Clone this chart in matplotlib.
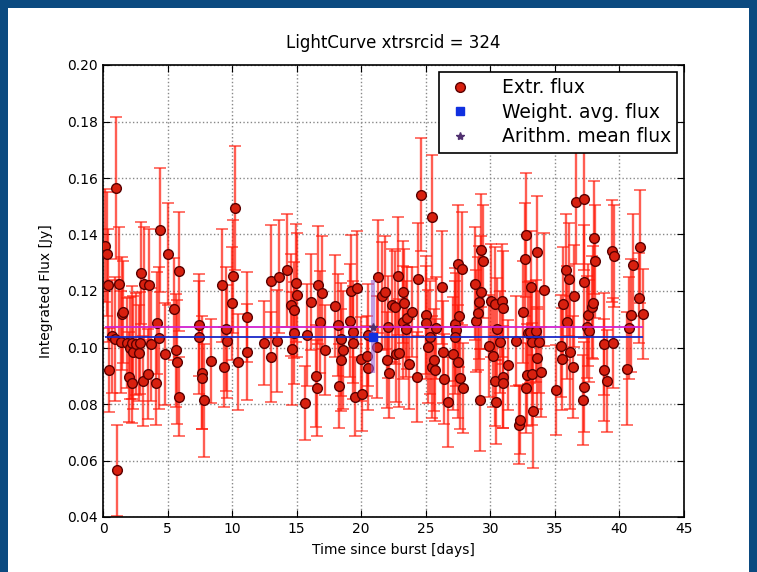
import matplotlib
matplotlib.use('Agg')
import matplotlib.pyplot as plt
from matplotlib.patches import Rectangle

# data
time = [0.15, 0.3, 0.4, 0.45, 0.7, 0.93, 1.0, 1.05, 1.25, 1.4, 1.45, 1.55, 1.85, 2.0, 2.1,
        2.25, 2.25, 2.3, 2.55, 2.8, 2.87, 2.95, 3.1, 3.2, 3.5, 3.6, 3.7, 4.1, 4.2, 4.3,
        4.4, 4.8, 5.0, 5.5, 5.65, 5.7, 5.9, 5.9, 7.45, 7.45, 7.65, 7.7, 7.8, 8.4, 9.2,
        9.4, 9.5, 9.6, 10.0, 10.1, 10.2, 10.45, 11.15, 11.15, 12.5, 13.0, 13.05, 13.45, 13.6, 14.25,
        14.55, 14.65, 14.8, 14.8, 14.95, 15.0, 15.65, 15.8, 16.1, 16.5, 16.6, 16.65, 16.8, 16.95, 17.2,
        18.0, 18.2, 18.3, 18.45, 18.45, 18.6, 19.15, 19.2, 19.35, 19.35, 19.5, 19.7, 20.0, 20.05, 20.45,
        20.5, 20.5, 21.2, 21.3, 21.6, 21.85, 22.0, 22.1, 22.15, 22.4, 22.6, 22.7, 22.85, 22.9, 23.25,
        23.25, 23.3, 23.45, 23.55, 23.7, 23.95, 24.3, 24.4, 24.6, 25.0, 25.0, 25.2, 25.35, 25.5, 25.5,
        25.65, 25.7, 25.8, 26.25, 26.3, 26.4, 26.75, 27.1, 27.3, 27.35, 27.3, 27.5, 27.5, 27.6, 27.65,
        27.8, 27.9, 28.8, 28.9, 29.05, 29.15, 29.2, 29.3, 29.3, 29.4, 29.9, 30.05, 30.2, 30.35, 30.35,
        30.45, 30.5, 30.75, 30.9, 31.0, 31.0, 31.0, 31.4, 32.0, 32.2, 32.3, 32.55, 32.7, 32.8, 32.8,
        32.85, 32.9, 33.1, 33.15, 33.2, 33.2, 33.3, 33.55, 33.6, 33.65, 33.75, 33.9, 34.15, 35.1, 35.5,
        35.55, 35.6, 35.85, 35.95, 36.1, 36.2, 36.4, 36.5, 36.65, 37.2, 37.25, 37.25, 37.25, 37.5, 37.6,
        37.65, 37.9, 37.95, 38.0, 38.1, 38.8, 38.8, 39.05, 39.45, 39.5, 39.6, 40.55, 40.75, 40.9, 41.05,
        41.5, 41.6, 41.8]
flux = [0.136, 0.133, 0.122, 0.092, 0.104, 0.103, 0.1565, 0.0565, 0.1225, 0.102, 0.112, 0.1126, 0.1016, 0.0896, 0.0998,
        0.1016, 0.0874, 0.0984, 0.1012, 0.098, 0.1016, 0.1264, 0.0881, 0.1225, 0.0906, 0.1221, 0.1012, 0.0874, 0.1087, 0.1034,
        0.1416, 0.0977, 0.133, 0.1136, 0.0991, 0.0949, 0.127, 0.0825, 0.108, 0.1037, 0.091, 0.0892, 0.0814, 0.0952, 0.1221,
        0.0931, 0.1065, 0.1023, 0.1157, 0.1253, 0.1494, 0.0949, 0.1108, 0.0984, 0.1016, 0.0966, 0.1235, 0.1023, 0.125, 0.1274,
        0.115, 0.0995, 0.1133, 0.1051, 0.1228, 0.1186, 0.0804, 0.1044, 0.1161, 0.0899, 0.0857, 0.1221, 0.109, 0.1193, 0.0991,
        0.1147, 0.108, 0.0864, 0.103, 0.0956, 0.0991, 0.1094, 0.12, 0.1055, 0.1016, 0.0825, 0.1211, 0.0959, 0.0835, 0.097,
        0.1044, 0.0927, 0.1002, 0.125, 0.1182, 0.1196, 0.0956, 0.1073, 0.091, 0.115, 0.1143, 0.0977, 0.1253, 0.098, 0.1196,
        0.109, 0.1157, 0.1065, 0.1104, 0.0942, 0.1126, 0.0896, 0.1242, 0.154, 0.1115, 0.1087, 0.1002, 0.1037, 0.1462, 0.0931,
        0.0956, 0.092, 0.1069, 0.1214, 0.0984, 0.0889, 0.0807, 0.0977, 0.1083, 0.1062, 0.1037, 0.1296, 0.0949, 0.1112, 0.0892,
        0.1278, 0.0857, 0.1225, 0.1094, 0.1122, 0.1161, 0.0814, 0.1345, 0.1196, 0.1306, 0.1005, 0.1165, 0.097, 0.1154, 0.0881,
        0.0807, 0.1065, 0.1019, 0.1165, 0.114, 0.0896, 0.0874, 0.0938, 0.1023, 0.0726, 0.0743, 0.1126, 0.1313, 0.1398, 0.0857,
        0.0903, 0.1051, 0.1055, 0.1214, 0.1019, 0.0906, 0.0775, 0.1058, 0.1338, 0.0963, 0.1019, 0.0913, 0.1204, 0.085, 0.1005,
        0.0959, 0.1154, 0.1274, 0.109, 0.1242, 0.0984, 0.0931, 0.1182, 0.1515, 0.0814, 0.1526, 0.1232, 0.086, 0.1073, 0.1115,
        0.1058, 0.1143, 0.1158, 0.1388, 0.1306, 0.1012, 0.092, 0.0881, 0.1342, 0.1016, 0.1324, 0.0925, 0.1069, 0.1115, 0.1292,
        0.1175, 0.1356, 0.1119]
flux_err = [0.020, 0.022, 0.020, 0.015, 0.020, 0.022, 0.025, 0.016, 0.020, 0.018, 0.020, 0.018, 0.016, 0.016, 0.018,
            0.020, 0.014, 0.020, 0.018, 0.017, 0.018, 0.018, 0.016, 0.020, 0.016, 0.020, 0.020, 0.015, 0.018, 0.025,
            0.022, 0.018, 0.018, 0.018, 0.020, 0.022, 0.021, 0.014, 0.018, 0.020, 0.020, 0.018, 0.020, 0.015, 0.020,
            0.014, 0.022, 0.020, 0.020, 0.020, 0.022, 0.017, 0.016, 0.017, 0.015, 0.016, 0.020, 0.018, 0.020, 0.020,
            0.018, 0.020, 0.017, 0.018, 0.021, 0.022, 0.013, 0.018, 0.017, 0.018, 0.017, 0.021, 0.018, 0.020, 0.016,
            0.018, 0.018, 0.015, 0.020, 0.018, 0.021, 0.020, 0.020, 0.018, 0.020, 0.014, 0.020, 0.015, 0.013, 0.014,
            0.018, 0.015, 0.018, 0.020, 0.019, 0.020, 0.017, 0.018, 0.016, 0.020, 0.020, 0.017, 0.021, 0.019, 0.018,
            0.020, 0.019, 0.017, 0.018, 0.016, 0.016, 0.016, 0.020, 0.020, 0.021, 0.020, 0.020, 0.020, 0.022, 0.018,
            0.018, 0.018, 0.018, 0.020, 0.018, 0.016, 0.016, 0.020, 0.020, 0.020, 0.020, 0.021, 0.020, 0.018, 0.018,
            0.020, 0.016, 0.020, 0.018, 0.020, 0.020, 0.018, 0.020, 0.020, 0.020, 0.018, 0.020, 0.018, 0.020, 0.016,
            0.015, 0.018, 0.018, 0.020, 0.020, 0.018, 0.016, 0.016, 0.016, 0.014, 0.012, 0.018, 0.020, 0.022, 0.016,
            0.018, 0.018, 0.018, 0.020, 0.018, 0.018, 0.020, 0.018, 0.020, 0.018, 0.018, 0.016, 0.020, 0.016, 0.018,
            0.018, 0.020, 0.020, 0.020, 0.020, 0.020, 0.018, 0.018, 0.022, 0.016, 0.025, 0.020, 0.016, 0.018, 0.018,
            0.018, 0.018, 0.020, 0.020, 0.020, 0.018, 0.018, 0.018, 0.018, 0.016, 0.018, 0.020, 0.018, 0.020, 0.018,
            0.016, 0.020, 0.016]

weighted_avg = 0.1037
arith_mean = 0.1073
arith_std = 0.0165
mean_time = 20.9

plt.rcParams['font.family'] = 'DejaVu Sans'
fig = plt.figure(figsize=(7.57, 5.72), dpi=100, facecolor='#0b4a80')
# white slide area inside the blue frame
fig.patches.append(Rectangle((8 / 757, 0), 741 / 757, 564 / 572, transform=fig.transFigure,
                             facecolor='white', edgecolor='none', zorder=-10))
ax = fig.add_axes([103 / 757, 1 - 517 / 572, 581 / 757, 452 / 572])
ax.set_zorder(5)

# error bars and points
ax.errorbar(time, flux, yerr=flux_err, fmt='none', ecolor='#ff1a0a', alpha=0.7,
            elinewidth=1.7, capsize=4, capthick=1.2, zorder=2)
ax.plot(time, flux, 'o', color='#d8200f', markeredgecolor='#5a0000', markersize=7,
        markeredgewidth=1, label='Extr. flux', zorder=3)

# averages
ax.hlines(arith_mean, min(time), max(time), color='#d020d0', lw=1.3, zorder=4)
ax.hlines(weighted_avg, min(time), max(time), color='#1a28c8', lw=1.3, zorder=4)
ax.errorbar([mean_time], [arith_mean], yerr=[arith_std], fmt='none', ecolor='#9a60d0',
            alpha=0.6, elinewidth=3, capsize=0, zorder=4)
ax.plot([mean_time], [weighted_avg], 's', color='#1030e0', markersize=6, markeredgecolor='#1030e0',
        label='Weight. avg. flux', zorder=5)
ax.plot([mean_time], [arith_mean], '*', color='#503070', markersize=6,
        label='Arithm. mean flux', zorder=5)

ax.set_xlim(0, 45)
ax.set_ylim(0.04, 0.20)
ax.set_xticks(range(0, 46, 5))
ax.set_yticks([0.04, 0.06, 0.08, 0.10, 0.12, 0.14, 0.16, 0.18, 0.20])
ax.set_yticklabels(['%.2f' % v for v in ax.get_yticks()])
ax.tick_params(direction='in', top=True, right=True, labelsize=10, length=5)
ax.grid(True, linestyle=':', color='#888888', linewidth=1)
for s in ax.spines.values():
    s.set_linewidth(1.2)

ax.set_title('LightCurve xtrsrcid = 324', fontsize=12, pad=12)
ax.set_xlabel('Time since burst [days]', fontsize=10, labelpad=5)
ax.set_ylabel('Integrated Flux [Jy]', fontsize=10, labelpad=10)

leg = ax.legend(loc='upper right', numpoints=1, fancybox=False, fontsize=13.5,
                borderaxespad=0.35, handletextpad=1.4, handlelength=1.6,
                labelspacing=0.3, borderpad=0.35, framealpha=1)
leg.get_frame().set_edgecolor('black')
leg.get_frame().set_linewidth(1.2)

fig.savefig('out.png', dpi=100, facecolor=fig.get_facecolor())
